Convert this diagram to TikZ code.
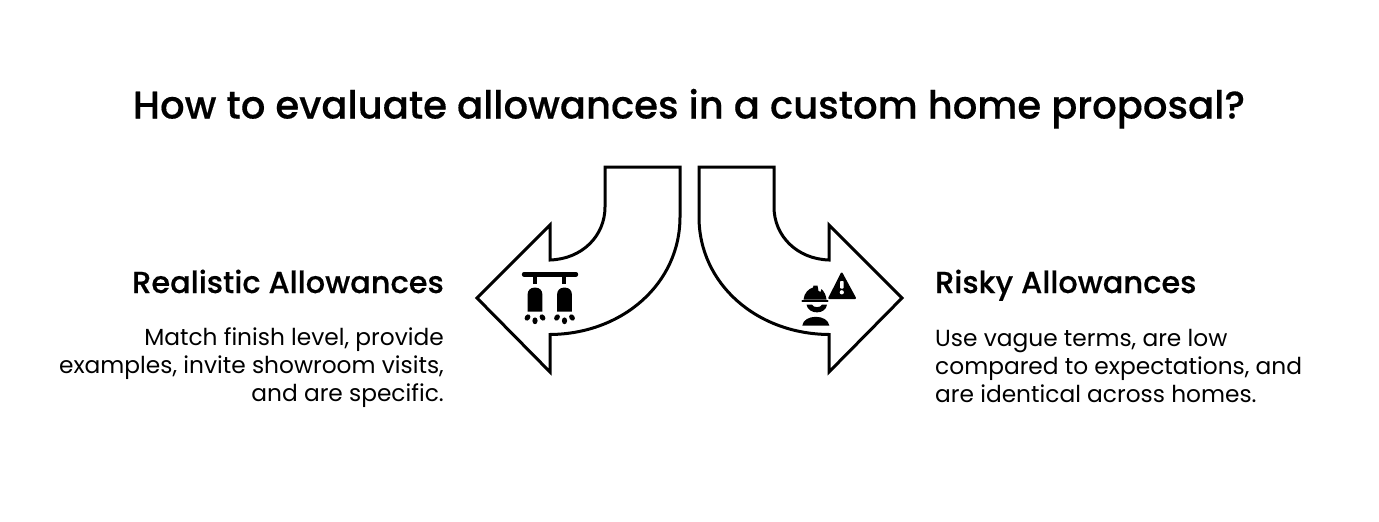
\documentclass[tikz,border=0pt]{standalone}
\usepackage{fontspec}
\setmainfont{Poppins}
\newfontfamily\medfont[FakeBold=0.35]{Poppins Medium}
\tikzset{
  arrowshape/.style={draw=black,line width=3pt,fill=white,miter limit=10},
  titletext/.style={font=\medfont\fontsize{38.55}{46}\selectfont,anchor=base,inner sep=0},
  headtext/.style={font=\medfont\fontsize{30.4}{36}\selectfont,anchor=base,inner sep=0},
  bodyleft/.style={font=\fontsize{23.3}{28}\selectfont,align=right,anchor=north east,inner sep=0},
  bodyright/.style={font=\fontsize{23.3}{28}\selectfont,align=left,anchor=north west,inner sep=0},
  glyph/.style={fill=black,draw=none},
}
\begin{document}
\begin{tikzpicture}[x=1pt,y=-1pt]
\useasboundingbox (0,0) rectangle (1379,522);
\fill[white] (0,0) rectangle (1379,522);
\node[titletext] (title) at (689,118.5) {How to evaluate allowances in a custom home proposal?};
% left arrow
\draw[arrowshape] (605,167) -- (680,167) -- (680,217)
  .. controls (680,284) and (622,334) .. (550,334.5)
  -- (550,372) -- (477,298) -- (550,225) -- (550,260)
  .. controls (582,259) and (605,236) .. (605,207) -- cycle;
% right arrow
\draw[arrowshape] (774,167) -- (699,167) -- (699,217)
  .. controls (699,284) and (757,334) .. (829,334.5)
  -- (829,372) -- (902,298) -- (829,225) -- (829,260)
  .. controls (797,259) and (774,236) .. (774,207) -- cycle;
% sprinklers icon
\draw[line width=4.4pt,line cap=round] (524,274.3) -- (576,274.3);
\draw[line width=4pt] (535,274) -- (535,284.3);
\draw[line width=4pt] (564.4,274) -- (564.4,284.3);
\foreach \c in {535,564.5}{
  \fill[glyph,rounded corners=6.2pt] (\c-7.3,311.7) [sharp corners] -- (\c-7.3,300) [rounded corners=6.2pt] -- (\c-7.3,287.7) -- (\c+7.3,287.7) -- (\c+7.3,300) [sharp corners] -- (\c+7.3,311.7) -- cycle;
  \fill[glyph,rotate around={-35:(\c-7.5,317.5)}] (\c-7.5,317.5) ellipse[x radius=2.6,y radius=3.4];
  \fill[glyph] (\c,320.8) ellipse[x radius=2.6,y radius=3.4];
  \fill[glyph,rotate around={35:(\c+7.5,317.5)}] (\c+7.5,317.5) ellipse[x radius=2.6,y radius=3.4];
}
% warning triangle
\fill[black,line join=round,draw=black,line width=2pt] (841.7,273.5) -- (855,298) -- (829.3,298) -- cycle;
\fill[white,rounded corners=0.8pt] (840,281) rectangle (843.6,288.5);
\fill[white] (841.8,292.3) circle[radius=2.1];
% worker helmet
\fill[glyph] (803.5,299.5) .. controls (804,293) and (809,288.5) .. (813,287.5) -- (813.5,285.5) -- (817.5,285.5) -- (818.5,291) -- (820.5,292) -- (821.5,289) .. controls (824,291.5) and (826,295) .. (826.5,299.5) -- cycle;
\draw[line width=2.2pt,line cap=round] (802.5,300.6) -- (827.5,300.6);
% face
\fill[glyph] (806.5,304.5) -- (812,304.5) .. controls (813,308) and (821,308) .. (822,304.5) -- (827,304.5) .. controls (826,315) and (808,315) .. (806.5,304.5) -- cycle;
% body
\fill[glyph] (802.3,325.5) .. controls (803,320) and (809,316.8) .. (815.8,316.8) .. controls (822.5,316.8) and (828.5,320) .. (829.3,325.5) -- cycle;
% labels
\node[headtext,anchor=base east] (lefthead) at (444,293) {Realistic Allowances};
\node[bodyleft] (leftbody) at (444,327.5) {Match finish level, provide\\examples, invite showroom visits,\\and are specific.};
\node[headtext,anchor=base west] (righthead) at (935,293) {Risky Allowances};
\node[bodyright] (rightbody) at (935,328.7) {Use vague terms, are low\\compared to expectations, and\\are identical across homes.};
\end{tikzpicture}
\end{document}
